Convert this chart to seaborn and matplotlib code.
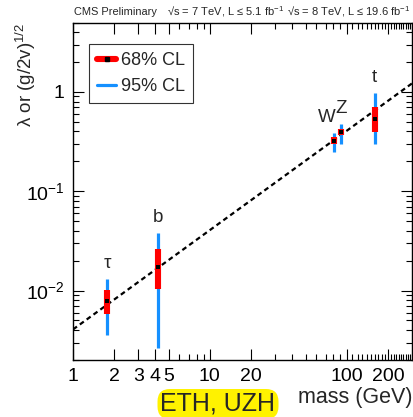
import numpy as np
import pandas as pd
import matplotlib
matplotlib.use("Agg")
import matplotlib.pyplot as plt
from matplotlib.ticker import LogLocator, FixedLocator, FixedFormatter, NullFormatter
from matplotlib.lines import Line2D
import seaborn as sns

# Particles, masses (GeV) and reduced couplings with 68% / 95% CL intervals
particles = ["τ", "b", "W", "Z", "t"]
mass = [1.777, 4.18, 80.4, 91.19, 160.0]
coupling = [0.0079, 0.0174, 0.32, 0.398, 0.53]
lo68 = [0.00575, 0.0103, 0.30, 0.368, 0.398]
hi68 = [0.0101, 0.0262, 0.349, 0.423, 0.70]
lo95 = [0.00356, 0.00266, 0.247, 0.297, 0.30]
hi95 = [0.0130, 0.0377, 0.389, 0.475, 0.97]

# SM expectation: lambda = m / v
vev = 246.22
line_mass = [1.0, 300.0]

xticks = [1, 2, 3, 4, 5, 10, 20, 100, 200]
xticklabels = ["1", "2", "3", "4", "5", "10", "20", "100", "200"]

sns.set_theme(style="ticks")
plt.rcParams["font.family"] = ["Liberation Sans", "DejaVu Sans"]
plt.rcParams["mathtext.fontset"] = "custom"
plt.rcParams["mathtext.rm"] = "Liberation Sans"
plt.rcParams["mathtext.it"] = "Liberation Sans:italic"

fig = plt.figure(figsize=(4.13, 4.17), dpi=100)
ax = fig.add_axes([73 / 413, 1 - 360 / 417, 339 / 413, 337.5 / 417])

df = pd.DataFrame({"particle": particles, "mass": mass, "coupling": coupling,
                   "lo68": lo68, "hi68": hi68, "lo95": lo95, "hi95": hi95})
line_df = pd.DataFrame({"mass": line_mass,
                        "coupling": [m / vev for m in line_mass]})

blue = "#1590ff"
red = "#ff0000"

sns.lineplot(data=line_df, x="mass", y="coupling", ax=ax, color="black",
             linestyle=(0, (2.2, 1.6)), linewidth=1.6, zorder=2)
ax.vlines(df["mass"], df["lo95"], df["hi95"], color=blue, linewidth=2.3, zorder=3)
ax.vlines(df["mass"], df["lo68"], df["hi68"], color=red, linewidth=4.4, zorder=4)
sns.scatterplot(data=df, x="mass", y="coupling", ax=ax, color="black",
                marker="s", s=9, linewidth=0, zorder=5)

# Particle labels above each 95% interval
for p, m, h in zip(particles, mass, hi95):
    dx = -5 if p == "W" else 0
    ax.annotate(p, (m, h), xytext=(dx, 5), textcoords="offset points",
                ha="center", va="bottom", fontsize=13.5)

ax.set_xscale("log")
ax.set_yscale("log")
ax.set_xlim(1, 300)
ax.set_ylim(0.002, 5)

# Minor x ticks: usual log subdivisions, finer steps of 10 above 100 GeV
minor_x = [s * 10 ** d for d in range(2) for s in range(2, 10)]
minor_x += [v for v in range(110, 301, 10) if v != 200]
ax.xaxis.set_major_locator(FixedLocator(xticks))
ax.xaxis.set_major_formatter(FixedFormatter(xticklabels))
ax.xaxis.set_minor_locator(FixedLocator(minor_x))
ax.xaxis.set_minor_formatter(NullFormatter())
ax.yaxis.set_major_locator(LogLocator(base=10, numticks=10))
ax.yaxis.set_minor_locator(LogLocator(base=10, subs=np.arange(2, 10), numticks=10))
ax.yaxis.set_minor_formatter(NullFormatter())
ax.set_yticks([0.01, 0.1, 1])
ax.set_yticklabels([r"$10^{-2}$", r"$10^{-1}$", "1"])

ax.tick_params(which="both", direction="in", top=True, right=True, colors="black",
               labelsize=14, width=0.8)
ax.tick_params(which="major", length=8, pad=6)
ax.tick_params(which="minor", length=4)
for s in ax.spines.values():
    s.set_linewidth(1.0)
    s.set_color("black")

ax.set_xlabel("mass (GeV)", fontsize=15.5, loc="right", labelpad=1)
ax.set_ylabel(r"λ or (g/2v)$^{1/2}$", fontsize=13.5, loc="top")
ax.yaxis.set_label_coords(-0.103, 1.0)

# Legend
handles = [
    Line2D([], [], color=red, linewidth=4.4, marker="s", markersize=3,
           markerfacecolor="black", markeredgecolor="black"),
    Line2D([], [], color=blue, linewidth=2.3),
]
leg = ax.legend(handles, ["68% CL", "95% CL"], loc="upper left",
                bbox_to_anchor=(0.047, 0.936), borderaxespad=0,
                fontsize=13, frameon=True, fancybox=False, edgecolor="black",
                handlelength=1.05, handletextpad=0.25, borderpad=0.45,
                labelspacing=0.5)
leg.get_frame().set_linewidth(0.8)

# Header texts
fig.text(74 / 413, 1 - 12 / 417, "CMS Preliminary", fontsize=7.9, va="center")
fig.text(167 / 413, 1 - 12 / 417, r"√s = 7 TeV, L ≤ 5.1 fb$^{-1}$",
         fontsize=8, va="center")
fig.text(287 / 413, 1 - 12 / 417, r"√s = 8 TeV, L ≤ 19.6 fb$^{-1}$",
         fontsize=8, va="center")

fig.text(218 / 413, 1 - 404 / 417, "ETH, UZH", fontsize=18, ha="center",
         va="center",
         bbox=dict(boxstyle="round,pad=0.12,rounding_size=0.5",
                   facecolor="#fff200", edgecolor="none"))

fig.savefig("out.png", dpi=100)
